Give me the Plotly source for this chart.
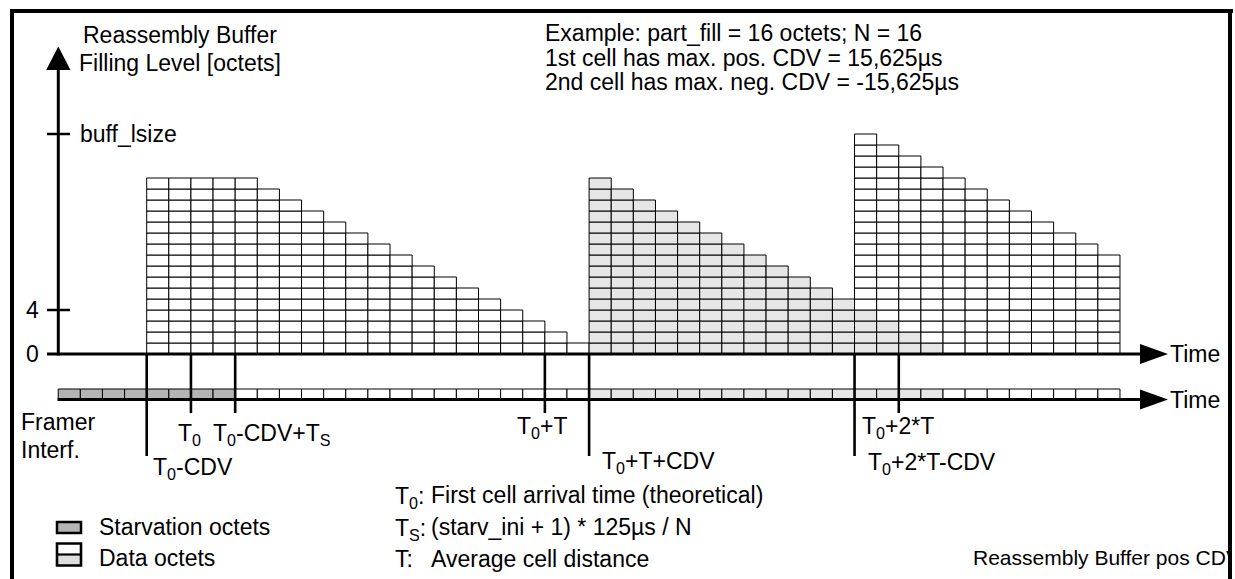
import plotly.graph_objects as go

# ---------------- data ----------------
# buffer filling level (octets) per time column, for each received cell
cell_levels_1 = [16, 16, 16, 16, 16, 15, 14, 13, 12, 11, 10, 9, 8, 7, 6, 5, 4, 3, 2, 1]
cell_levels_2 = [16, 15, 14, 13, 12, 11, 10, 9, 8, 7, 6, 5, 4, 3, 2, 1]
cell_levels_3 = [16, 16, 16, 16, 16, 15, 14, 13, 12, 11, 10, 9]
cell_first_cols = [0, 20, 32]
# framer interface octets: S = starvation, D = data (cell 1/3), G = data (cell 2)
framer_octets = list("SSSSSSSSDDDDDDDDDDDDDDDDGGGGGGGGGGGGGGGGDDDDDDDD")
framer_first_col = -4
# y axis ticks
y_tick_values = [0, 4, 20]
y_tick_texts = ["0", "4", "buff_lsize"]
# time markers
marker_texts = ["T<sub>0</sub>-CDV", "T<sub>0</sub>", "T<sub>0</sub>-CDV+T<sub>S</sub>",
                "T<sub>0</sub>+T", "T<sub>0</sub>+T+CDV", "T<sub>0</sub>+2*T-CDV",
                "T<sub>0</sub>+2*T"]
marker_cols = [0, 2, 4, 18, 20, 32, 34]
marker_is_cdv = [True, False, False, False, True, True, False]
# glossary
gloss_terms = ["T<sub>0</sub>:", "T<sub>S</sub>:", "T:"]
gloss_texts = ["First cell arrival time (theoretical)",
               "(starv_ini + 1) * 125µs / N",
               "Average cell distance"]

# ---------------- layout constants ----------------
W, H = 1235, 579
X0, CW = 146.7, 22.12
Y0, RH = 354.0, 11.0
FONT = "Liberation Sans, Arial, Helvetica, sans-serif"
WHITE, LIGHT, STARV = "#ffffff", "#e6e6e6", "#b4b4b4"


def X(p):
    return (p - X0) / CW


def Y(p):
    return (Y0 - p) / RH


fig = go.Figure()


def add_cells(levels, first_col, color, bases=None):
    xs, bs = [], []
    for i, h in enumerate(levels):
        col = first_col + i
        b0 = bases.get(col, 0) if bases else 0
        for r in range(h):
            xs.append(col + 0.5)
            bs.append(b0 + r)
    fig.add_trace(go.Bar(x=xs, y=[1] * len(xs), base=bs, width=1,
                         marker=dict(color=color, line=dict(color="black", width=1)),
                         hoverinfo="skip", showlegend=False))


add_cells(cell_levels_1, cell_first_cols[0], WHITE)
add_cells(cell_levels_2, cell_first_cols[1], LIGHT)
cell2_by_col = {cell_first_cols[1] + i: v for i, v in enumerate(cell_levels_2)}
add_cells(cell_levels_3, cell_first_cols[2], WHITE, bases=cell2_by_col)

# framer interface strip
strip_bottom, strip_top = 399.0, 389.0
color_map = {"S": STARV, "D": WHITE, "G": LIGHT}
fig.add_trace(go.Bar(
    x=[framer_first_col + j + 0.5 for j in range(len(framer_octets))],
    y=[(strip_bottom - strip_top) / RH] * len(framer_octets),
    base=[Y(strip_bottom)] * len(framer_octets), width=1,
    marker=dict(color=[color_map[c] for c in framer_octets],
                line=dict(color="black", width=1)),
    hoverinfo="skip", showlegend=False))

# time marker lines
for col, is_cdv in zip(marker_cols, marker_is_cdv):
    bottom = 456 if is_cdv else 413
    fig.add_trace(go.Scatter(x=[col, col], y=[0, Y(bottom)], mode="lines",
                             line=dict(color="black", width=2.6),
                             hoverinfo="skip", showlegend=False))

# footer text, cut by the frame like in the reference
fig.add_trace(go.Scatter(x=[X(973)], y=[Y(560)], mode="text",
                         text=["Reassembly Buffer pos CDV"], textposition="middle right",
                         textfont=dict(family=FONT, size=21, color="black"),
                         hoverinfo="skip", showlegend=False))

shapes = []


def line(x0p, y0p, x1p, y1p, w=3.0, color="black"):
    shapes.append(dict(type="line", xref="x", yref="y", x0=X(x0p), y0=Y(y0p),
                       x1=X(x1p), y1=Y(y1p), line=dict(color=color, width=w),
                       layer="above"))


def poly(pts, fill="black", lw=0, lc="black"):
    path = "M " + " L ".join(f"{X(a)},{Y(b)}" for a, b in pts) + " Z"
    shapes.append(dict(type="path", xref="x", yref="y", path=path, fillcolor=fill,
                       line=dict(color=lc, width=lw), layer="above"))


# y axis with arrow
line(58.3, 68, 58.3, 355.5)
poly([(58.3, 46.5), (70.5, 70), (46.2, 70)])
# time axis 1 and 2 with arrows
line(47, 354, 1142, 354)
poly([(1140, 344), (1168, 354), (1140, 364)])
line(57.5, 399.5, 1142, 399.5)
poly([(1140, 389.5), (1168, 399.5), (1140, 409.5)])
# y ticks
for v in y_tick_values[1:]:
    line(47, Y0 - v * RH, 70, Y0 - v * RH, w=2.5)

# legend icons
poly([(57, 522), (81, 522), (81, 533), (57, 533)], fill=STARV, lw=2.5)
poly([(57, 554.5), (81, 554.5), (81, 565.5), (57, 565.5)], fill="#dedede", lw=0)
poly([(57, 543.5), (81, 543.5), (81, 554.5), (57, 554.5)], fill=WHITE, lw=0)
line(57, 554.5, 81, 554.5, w=2.2)
shapes.append(dict(type="rect", xref="x", yref="y", x0=X(57), x1=X(81), y0=Y(543.5),
                   y1=Y(565.5), line=dict(color="black", width=2.6), layer="above"))

# white cover beyond frame and frame border
poly([(1230, 0), (1240, 0), (1240, 579), (1230, 579)], fill="white")
line(10, 11, 1233, 11, w=4)
line(12, 9, 12, 580, w=4)
line(1230, 9, 1230, 580, w=4)

ann = []


def text(t, px, py, size=23, xanchor="left"):
    ann.append(dict(x=X(px), y=Y(py), xref="x", yref="y", text=t, showarrow=False,
                    xanchor=xanchor, yanchor="middle",
                    font=dict(family=FONT, size=size, color="black")))


text("Reassembly Buffer", 180, 35, xanchor="center")
text("Filling Level [octets]", 180, 63, xanchor="center")
text("Example: part_fill = 16 octets; N = 16", 543, 33)
text("1st cell has max. pos. CDV = 15,625µs", 543, 57.5)
text("2nd cell has max. neg. CDV = -15,625µs", 543, 82)

# y tick labels
text(y_tick_texts[2], 78, Y0 - y_tick_values[2] * RH)
text(y_tick_texts[1], 32, Y0 - y_tick_values[1] * RH, xanchor="center")
text(y_tick_texts[0], 32, Y0 - y_tick_values[0] * RH, xanchor="center")

text("Time", 1168, 354)
text("Time", 1168, 400)
text("Framer", 19, 422)
text("Interf.", 19, 450)

marker_label_px = [(151, 468), (176, 434), (211, 434), (515, 427), (600, 462), (866, 463), (860, 427)]
for t, (px, py) in zip(marker_texts, marker_label_px):
    text(t, px, py)

gloss_rows = [495, 527, 559]
for term, desc, py in zip(gloss_terms, gloss_texts, gloss_rows):
    text(term, 393, py + (2 if "sub" in term else 0))
    text(desc, 429, py)

text("Starvation octets", 97, 527)
text("Data octets", 97, 558)

fig.update_layout(
    width=W, height=H, margin=dict(l=0, r=0, t=0, b=0, pad=0),
    paper_bgcolor="white", plot_bgcolor="white", barmode="overlay",
    xaxis=dict(range=[X(0), X(W)], visible=False, fixedrange=True),
    yaxis=dict(range=[Y(H), Y(0)], visible=False, fixedrange=True),
    shapes=shapes, annotations=ann, showlegend=False,
)

fig.write_html("out.html", config={"displayModeBar": False, "staticPlot": True},
               post_script="document.body.style.margin='0';document.body.style.overflow='hidden';")
